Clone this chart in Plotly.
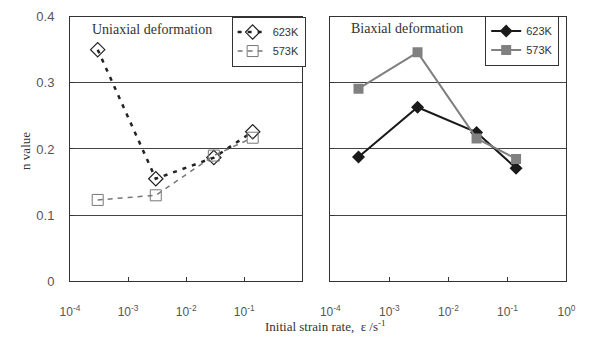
import plotly.graph_objects as go

rate = [3e-4, 3e-3, 3e-2, 1.4e-1]
uni_623 = [0.35, 0.155, 0.187, 0.226]
uni_573 = [0.123, 0.13, 0.19, 0.217]
bi_623 = [0.188, 0.263, 0.225, 0.171]
bi_573 = [0.291, 0.346, 0.216, 0.185]
x_ticks = [1e-4, 1e-3, 1e-2, 1e-1, 1e0]
x_labels = ["10<sup>-4</sup>", "10<sup>-3</sup>", "10<sup>-2</sup>", "10<sup>-1</sup>", "10<sup>0</sup>"]
y_ticks = [0, 0.1, 0.2, 0.3, 0.4]
y_labels = ["0", "0.1", "0.2", "0.3", "0.4"]

W, H = 590, 341
def px(x): return x / W
def py(y): return 1 - y / H

fig = go.Figure()
fig.add_trace(go.Scatter(x=rate, y=uni_623, name="623K", mode="lines+markers",
                         line=dict(color="#222", width=2.5, dash="4px,6px"),
                         marker=dict(symbol="diamond-open", size=11, color="#222", line=dict(width=1.2)),
                         xaxis="x", yaxis="y", legend="legend"))
fig.add_trace(go.Scatter(x=rate, y=uni_573, name="573K", mode="lines+markers",
                         line=dict(color="#777", width=1.5, dash="5px,5px"),
                         marker=dict(symbol="square-open", size=11, color="#777", line=dict(width=1)),
                         xaxis="x", yaxis="y", legend="legend"))
fig.add_trace(go.Scatter(x=rate, y=bi_623, name="623K", mode="lines+markers",
                         line=dict(color="#1a1a1a", width=2),
                         marker=dict(symbol="diamond", size=10, color="#1a1a1a"),
                         xaxis="x2", yaxis="y2", legend="legend2"))
fig.add_trace(go.Scatter(x=rate, y=bi_573, name="573K", mode="lines+markers",
                         line=dict(color="#808080", width=2),
                         marker=dict(symbol="square", size=10, color="#808080"),
                         xaxis="x2", yaxis="y2", legend="legend2"))

axis_common = dict(showline=True, linecolor="#333", linewidth=1, mirror=True,
                   zeroline=False, ticks="inside", ticklen=4, tickcolor="#333")
xfont = dict(family="Liberation Sans, Arial", size=12, color="#555")
yfont = dict(family="Liberation Sans, Arial", size=13, color="#555")
ydom = [py(287), py(10)]
fig.update_layout(
    width=W, height=H, margin=dict(l=0, r=0, t=0, b=0),
    paper_bgcolor="white", plot_bgcolor="white",
    xaxis=dict(domain=[px(62), px(302)], type="log", range=[-4, 0], anchor="y",
               tickvals=x_ticks[:4], ticktext=x_labels[:4], showgrid=False,
               tickfont=xfont, ticklabelstandoff=19, **axis_common),
    yaxis=dict(domain=ydom, range=[0, 0.4], anchor="x", tickvals=y_ticks, ticktext=y_labels,
               showgrid=True, gridcolor="#444", gridwidth=1,
               tickfont=yfont, ticklabelstandoff=12, **axis_common),
    xaxis2=dict(domain=[px(331), px(575)], type="log", range=[-4, 0], anchor="y2",
                tickvals=x_ticks, ticktext=x_labels, showgrid=False,
                tickfont=xfont, ticklabelstandoff=19, **axis_common),
    yaxis2=dict(domain=ydom, range=[0, 0.4], anchor="x2", tickvals=y_ticks, showticklabels=False,
                showgrid=True, gridcolor="#444", gridwidth=1, **axis_common),
    legend=dict(x=px(229), y=py(10), xanchor="left", yanchor="top",
                bordercolor="#333", borderwidth=1, bgcolor="white",
                font=dict(family="Liberation Sans, Arial", size=11, color="#333"),
                itemwidth=30, tracegroupgap=0),
    legend2=dict(x=px(491), y=py(9), xanchor="left", yanchor="top",
                 bordercolor="#333", borderwidth=1, bgcolor="white",
                 font=dict(family="Liberation Sans, Arial", size=11, color="#333"),
                 itemwidth=30, tracegroupgap=0),
    showlegend=True,
)

serif = "Liberation Serif, Times New Roman"
fig.add_annotation(text="Uniaxial deformation", x=px(83), y=py(24), xref="paper", yref="paper",
                   xanchor="left", yanchor="middle", showarrow=False,
                   font=dict(family=serif, size=14, color="#333"))
fig.add_annotation(text="Biaxial deformation", x=px(350), y=py(23), xref="paper", yref="paper",
                   xanchor="left", yanchor="middle", showarrow=False,
                   font=dict(family=serif, size=14, color="#333"))
fig.add_annotation(text="Initial strain rate,  ε /s<sup>-1</sup>", x=px(326), y=py(334),
                   xref="paper", yref="paper", xanchor="center", yanchor="middle", showarrow=False,
                   font=dict(family=serif, size=13, color="#333"))
fig.add_annotation(text="n value", x=px(16), y=py(150), xref="paper", yref="paper",
                   xanchor="center", yanchor="middle", showarrow=False, textangle=-90,
                   font=dict(family=serif, size=13, color="#333"))

fig.write_html("out.html")
